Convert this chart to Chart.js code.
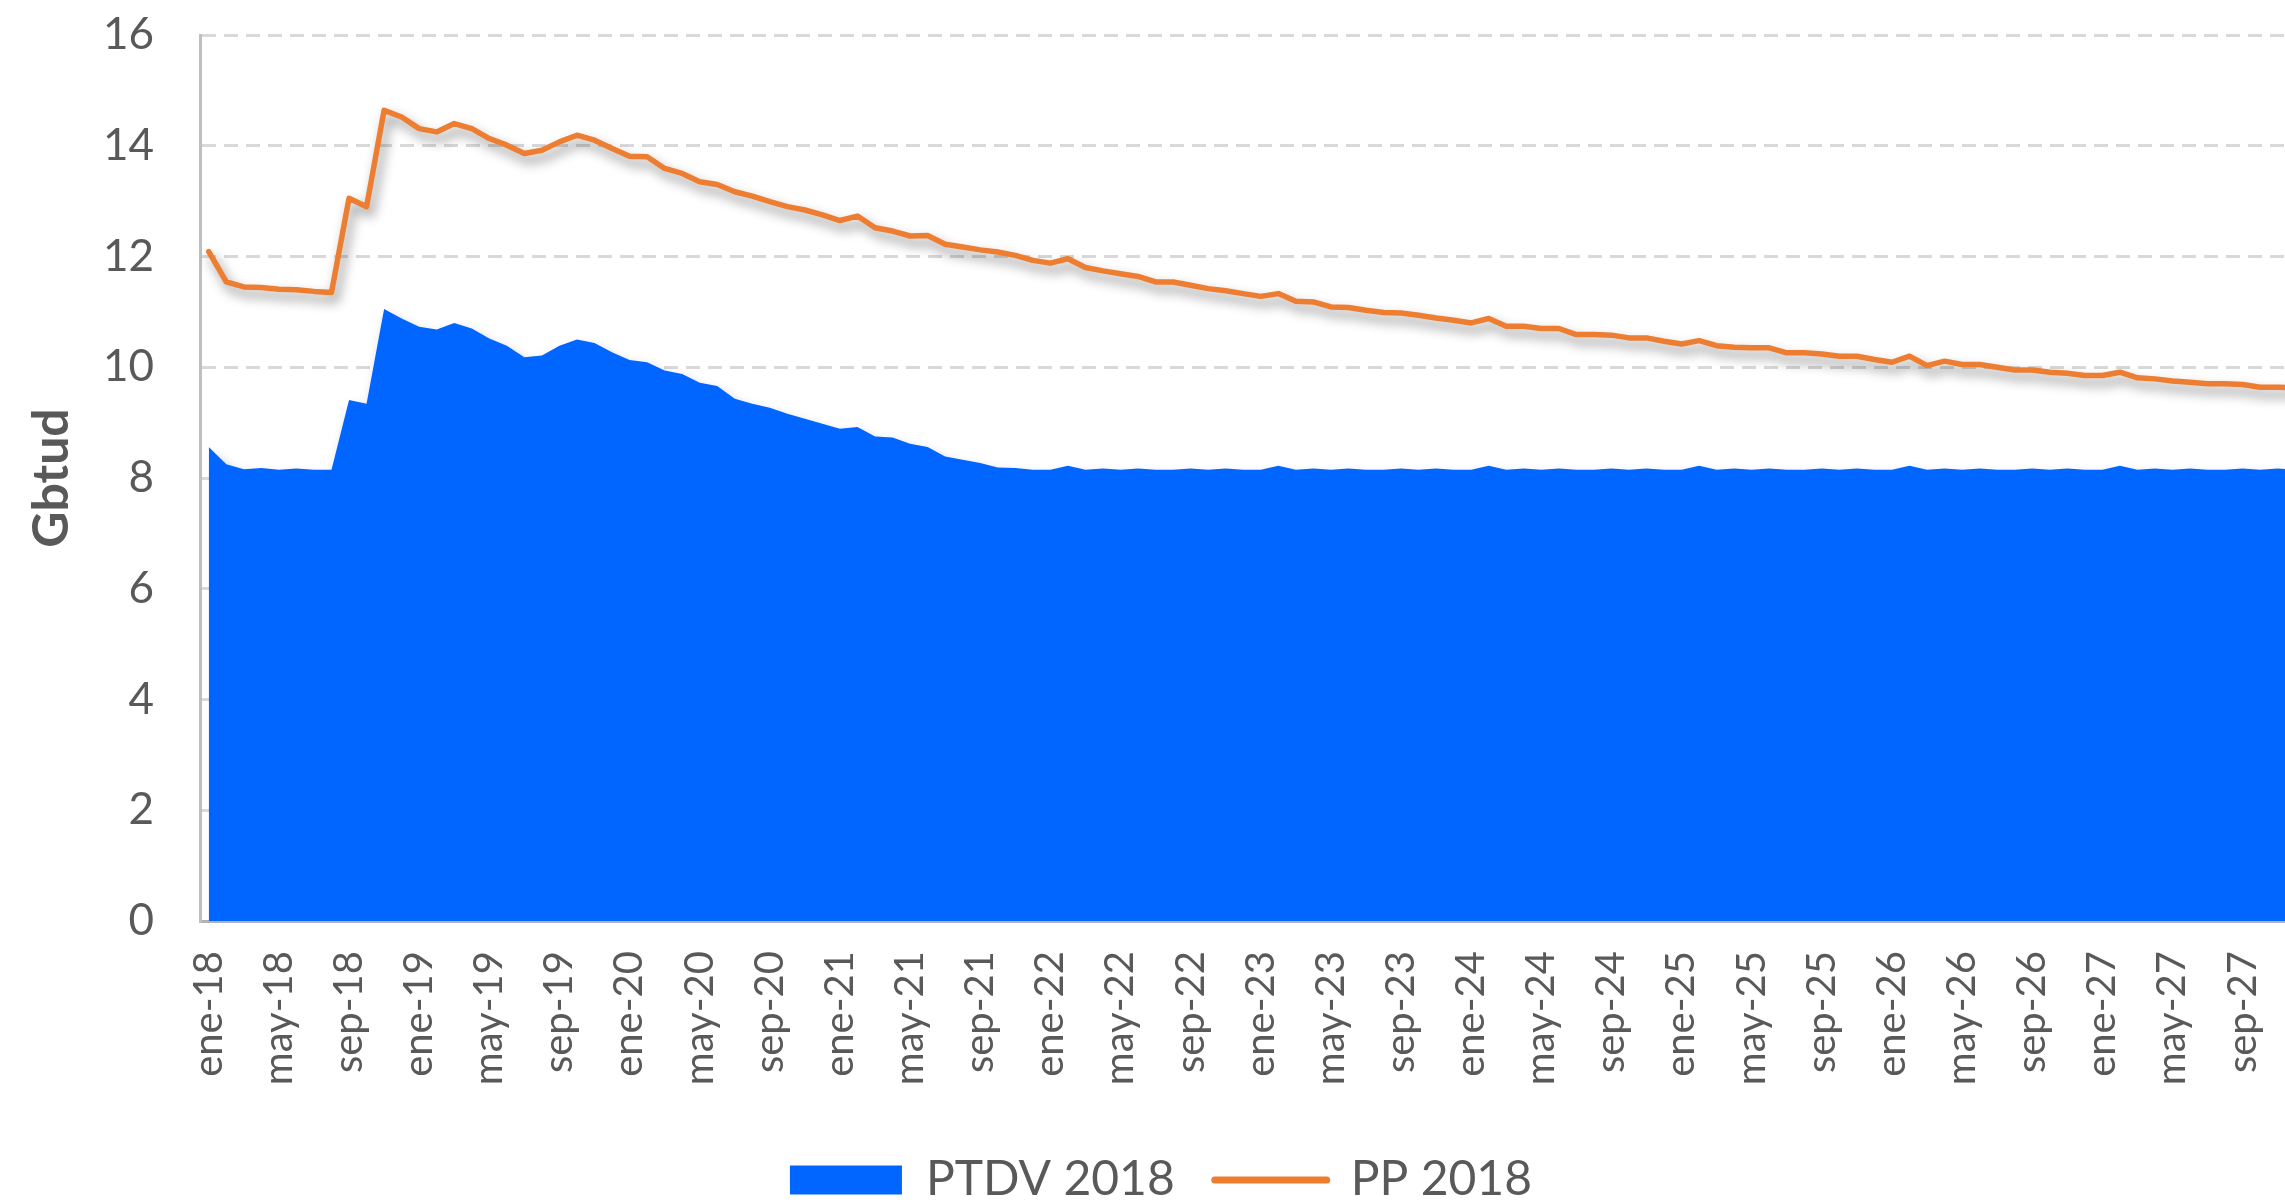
<!DOCTYPE html>
<html>
<head>
<meta charset="utf-8">
<script src="https://cdn.jsdelivr.net/npm/chart.js@4.4.1/dist/chart.umd.min.js"></script>
<style>
  html, body { margin: 0; padding: 0; background: #ffffff; overflow: hidden; }
  #wrap { position: relative; width: 2322px; height: 1202px; }
</style>
</head>
<body>
<div id="wrap"><canvas id="c"></canvas></div>
<script>
// ---- categories / tick labels ----
const months = ['ene','feb','mar','abr','may','jun','jul','ago','sep','oct','nov','dic'];
const years = ['18','19','20','21','22','23','24','25','26','27'];
const categories = years.flatMap(y => months.map(m => m + '-' + y));

// ---- series: PTDV 2018 (area), Gbtud ----
const ptdv2018 = [
  8.56, 8.25, 8.16, 8.18, 8.15, 8.17, 8.15, 8.15, 9.41, 9.34, 11.05, 10.88,
  10.73, 10.68, 10.80, 10.70, 10.52, 10.39, 10.18, 10.21, 10.39, 10.50, 10.44, 10.27,
  10.13, 10.09, 9.94, 9.88, 9.72, 9.66, 9.43, 9.34, 9.27, 9.16, 9.07, 8.98,
  8.89, 8.92, 8.75, 8.73, 8.62, 8.56, 8.39, 8.33, 8.27, 8.19, 8.18, 8.15,
  8.15, 8.22, 8.15, 8.17, 8.15, 8.17, 8.15, 8.15, 8.17, 8.15, 8.17, 8.15,
  8.15, 8.22, 8.15, 8.17, 8.15, 8.17, 8.15, 8.15, 8.17, 8.15, 8.17, 8.15,
  8.15, 8.22, 8.15, 8.17, 8.15, 8.17, 8.15, 8.15, 8.17, 8.15, 8.17, 8.15,
  8.15, 8.22, 8.15, 8.17, 8.15, 8.17, 8.15, 8.15, 8.17, 8.15, 8.17, 8.15,
  8.15, 8.22, 8.15, 8.17, 8.15, 8.17, 8.15, 8.15, 8.17, 8.15, 8.17, 8.15,
  8.15, 8.22, 8.15, 8.17, 8.15, 8.17, 8.15, 8.15, 8.17, 8.15, 8.17, 8.15
];

// ---- series: PP 2018 (line), Gbtud ----
const pp2018 = [
  12.09, 11.54, 11.45, 11.44, 11.41, 11.40, 11.37, 11.35, 13.05, 12.90, 14.64, 14.52,
  14.31, 14.25, 14.40, 14.31, 14.13, 14.01, 13.86, 13.92, 14.07, 14.19, 14.10, 13.95,
  13.81, 13.80, 13.59, 13.50, 13.35, 13.30, 13.17, 13.09, 12.99, 12.90, 12.84, 12.75,
  12.65, 12.73, 12.52, 12.46, 12.37, 12.38, 12.22, 12.17, 12.12, 12.08, 12.02, 11.93,
  11.88, 11.96, 11.80, 11.74, 11.69, 11.64, 11.54, 11.54, 11.48, 11.42, 11.38, 11.33,
  11.28, 11.33, 11.19, 11.18, 11.09, 11.08, 11.03, 10.99, 10.98, 10.94, 10.89, 10.85,
  10.80, 10.88, 10.74, 10.74, 10.70, 10.70, 10.59, 10.59, 10.58, 10.53, 10.53, 10.47,
  10.42, 10.48, 10.39, 10.36, 10.35, 10.35, 10.26, 10.26, 10.24, 10.20, 10.20, 10.14,
  10.09, 10.20, 10.03, 10.11, 10.05, 10.05, 10.00, 9.95, 9.95, 9.91, 9.89, 9.85,
  9.85, 9.91, 9.81, 9.79, 9.75, 9.73, 9.70, 9.70, 9.69, 9.64, 9.64, 9.63
];

const yTicks = [0, 2, 4, 6, 8, 10, 12, 14, 16];
const seriesNames = ['PTDV 2018', 'PP 2018'];
const yTitle = 'Gbtud';

const BLUE = '#0066FF';
const ORANGE = '#ED7D31';
const TEXT = '#595959';

// drop shadow under the series, like the Excel shadow effect:
// the line element resets nothing, so wrap its stroke with shadow settings
const shadowPlugin = {
  id: 'softShadow',
  beforeDatasetsDraw(chart) {
    const ctx = chart.ctx;
    if (!ctx.__shadowPatched) {
      const origStroke = ctx.stroke.bind(ctx);
      const origFill = ctx.fill.bind(ctx);
      ctx.stroke = function(...a) {
        if (ctx.__shadowOn) {
          ctx.shadowColor = 'rgba(0,0,0,0.45)';
          ctx.shadowBlur = 12;
          ctx.shadowOffsetX = 4;
          ctx.shadowOffsetY = 7;
        }
        return origStroke(...a);
      };
      ctx.fill = function(...a) {
        if (ctx.__shadowOn) {
          ctx.shadowColor = 'rgba(0,0,0,0.3)';
          ctx.shadowBlur = 12;
          ctx.shadowOffsetX = 4;
          ctx.shadowOffsetY = 7;
        }
        return origFill(...a);
      };
      ctx.__shadowPatched = true;
    }
    ctx.__shadowOn = true;
  },
  afterDatasetsDraw(chart) {
    const ctx = chart.ctx;
    ctx.__shadowOn = false;
    ctx.shadowColor = 'rgba(0,0,0,0)';
    ctx.shadowBlur = 0;
    ctx.shadowOffsetX = 0;
    ctx.shadowOffsetY = 0;
  }
};

new Chart(document.getElementById('c'), {
  type: 'line',
  data: {
    labels: categories,
    datasets: [
      {
        label: seriesNames[0],
        data: ptdv2018,
        backgroundColor: BLUE,
        borderColor: BLUE,
        borderWidth: 0,
        pointRadius: 0,
        fill: 'origin',
        tension: 0,
        pointStyle: 'rect'
      },
      {
        label: seriesNames[1],
        data: pp2018,
        borderColor: ORANGE,
        backgroundColor: ORANGE,
        borderWidth: 5.5,
        pointRadius: 0,
        fill: false,
        tension: 0,
        borderJoinStyle: 'round',
        borderCapStyle: 'round',
        pointStyle: 'line'
      }
    ]
  },
  options: {
    responsive: true,
    maintainAspectRatio: false,
    devicePixelRatio: 1,
    animation: false,
    layout: { padding: { top: 35, left: 18, right: 18, bottom: 0 } },
    plugins: {
      tooltip: { enabled: false },
      legend: {
        position: 'bottom',
        maxHeight: 86,
        labels: {
          usePointStyle: true,
          pointStyleWidth: 112,
          boxHeight: 29,
          padding: 40,
          color: TEXT,
          font: { family: 'Lato', size: 48 },
          generateLabels: (chart) => chart.data.datasets.map((ds, i) => ({
            text: ds.label,
            fillStyle: ds.backgroundColor,
            strokeStyle: ds.borderColor,
            lineWidth: i === 0 ? 0 : 7,
            lineCap: 'round',
            pointStyle: i === 0 ? 'rect' : 'line',
            fontColor: TEXT,
            hidden: false,
            datasetIndex: i
          }))
        }
      }
    },
    scales: {
      x: {
        type: 'category',
        offset: true,
        grid: { display: false, drawTicks: false },
        border: { display: true, color: '#b3b3b3', width: 3 },
        ticks: {
          autoSkip: false,
          maxRotation: 90,
          minRotation: 90,
          padding: 30,
          color: TEXT,
          font: { family: 'Lato', size: 40 },
          callback: function(value, index) {
            return index % 4 === 0 ? this.getLabelForValue(value) : null;
          }
        },
        afterFit: (s) => { s.height = 195; s.paddingLeft = 0; s.paddingRight = 0; s.paddingTop = 0; s.paddingBottom = 0; }
      },
      y: {
        min: 0,
        max: 16,
        afterBuildTicks: (s) => { s.ticks = yTicks.map(v => ({ value: v })); },
        grid: { color: '#d9d9d9', lineWidth: 3, drawTicks: false },
        border: { display: true, color: '#bfbfbf', width: 3, dash: [14, 8] },
        ticks: {
          padding: 46,
          color: TEXT,
          font: { family: 'Lato', size: 44 }
        },
        title: {
          display: true,
          text: yTitle,
          color: TEXT,
          font: { family: 'Lato', size: 50, weight: 'bold' },
          padding: { top: 4, bottom: 0 }
        },
        afterFit: (s) => { s.width = 182; s.paddingTop = 0; s.paddingBottom = 0; s.paddingLeft = 0; s.paddingRight = 0; }
      }
    }
  },
  plugins: [shadowPlugin]
});
</script>
</body>
</html>
